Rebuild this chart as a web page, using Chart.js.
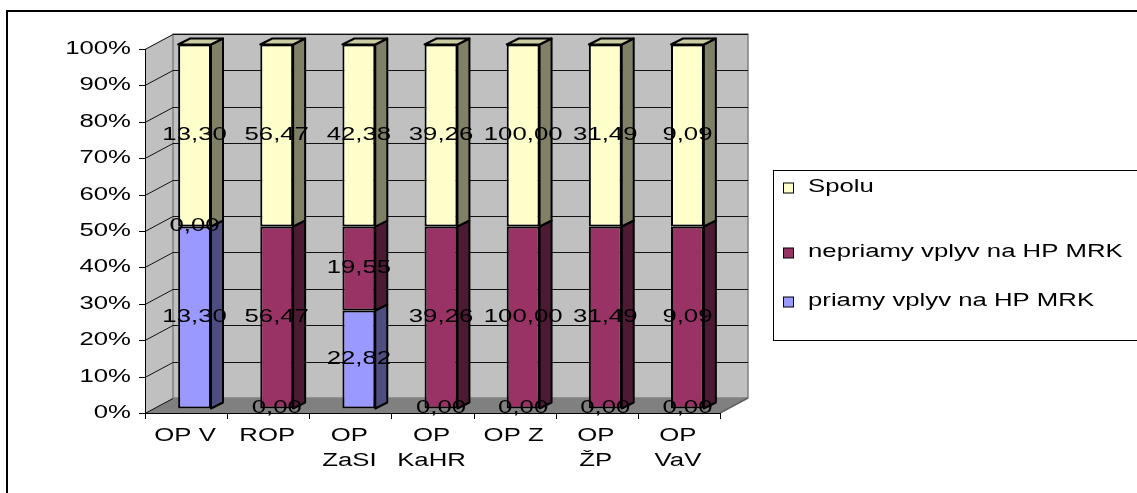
<!DOCTYPE html>
<html>
<head>
<meta charset="utf-8">
<script src="https://cdn.jsdelivr.net/npm/chart.js@4/dist/chart.umd.min.js"></script>
<style>
    html, body { margin: 0; padding: 0; background: #fff; }
    #wrap { width: 1137px; height: 493px; }
</style>
</head>
<body>
<div id="wrap"><canvas id="chart" width="1137" height="493"></canvas></div>
<script>
// Dáta grafu
const categories = ['OP V', 'ROP', ['OP', 'ZaSI'], ['OP', 'KaHR'], 'OP Z', ['OP', 'ŽP'], ['OP', 'VaV']];
const priamy = [13.30, 0.00, 22.82, 0.00, 0.00, 0.00, 0.00];
const nepriamy = [0.00, 56.47, 19.55, 39.26, 100.00, 31.49, 9.09];
const spolu = [13.30, 56.47, 42.38, 39.26, 100.00, 31.49, 9.09];
const seriesNames = ['priamy vplyv na HP MRK', 'nepriamy vplyv na HP MRK', 'Spolu'];
const seriesColors = ['#9999FF', '#993366', '#FFFFCC'];
const rawSeries = [priamy, nepriamy, spolu];
const yMax = 100;
const yStep = 10;

// 3D vzhľad (štýl, nie dáta)
const WALL_DX = 28, WALL_DY = 15;
const SHIFT_X = 8.5, SHIFT_Y = -4.5;
const BAR_DX = 12, BAR_DY = 6;
const FONT = '18px "Liberation Sans", Arial, sans-serif';
const STRETCH = 1.43;

// 100 % skladanie
const totals = categories.map((c, i) => rawSeries.reduce((s, arr) => s + arr[i], 0));
const percent = rawSeries.map(arr => arr.map((v, i) => totals[i] ? v / totals[i] * 100 : 0));

function shade(hex, f) {
    const n = parseInt(hex.slice(1), 16);
    const r = Math.round(((n >> 16) & 255) * f), g = Math.round(((n >> 8) & 255) * f), b = Math.round((n & 255) * f);
    return `rgb(${r},${g},${b})`;
}

function poly(ctx, pts, fill, stroke, lw) {
    ctx.beginPath();
    ctx.moveTo(pts[0][0], pts[0][1]);
    for (let i = 1; i < pts.length; i++) ctx.lineTo(pts[i][0], pts[i][1]);
    ctx.closePath();
    if (fill) { ctx.fillStyle = fill; ctx.fill(); }
    if (stroke) { ctx.strokeStyle = stroke; ctx.lineWidth = lw || 1; ctx.lineJoin = 'round'; ctx.stroke(); }
}

function line(ctx, x1, y1, x2, y2, color, lw) {
    ctx.beginPath();
    ctx.moveTo(x1, y1);
    ctx.lineTo(x2, y2);
    ctx.strokeStyle = color;
    ctx.lineWidth = lw || 1;
    ctx.stroke();
}

// Text roztiahnutý do šírky ako v Exceli
function text(ctx, str, x, y, align) {
    ctx.save();
    ctx.translate(x, y);
    ctx.scale(STRETCH, 1);
    ctx.font = FONT;
    ctx.fillStyle = '#000';
    ctx.textAlign = align;
    ctx.textBaseline = 'middle';
    ctx.fillText(str, 0, 0);
    ctx.restore();
}

const fmt = v => v.toFixed(2).replace('.', ',');

const framePlugin = {
    id: 'frame',
    beforeDraw(chart) {
        const ctx = chart.ctx;
        ctx.save();
        ctx.fillStyle = '#fff';
        ctx.fillRect(0, 0, chart.width, chart.height);
        line(ctx, 7, 10, 7, chart.height + 2, '#000', 2);
        line(ctx, 6, 11, chart.width + 2, 11, '#000', 2);
        ctx.restore();
    }
};

const wallsPlugin = {
    id: 'walls',
    beforeDatasetsDraw(chart) {
        const { ctx, chartArea: a, scales: { x, y } } = chart;
        ctx.save();
        const L = a.left, R = a.right, T = a.top, B = a.bottom;
        // ľavá stena, zadná stena, podlaha
        poly(ctx, [[L, T], [L + WALL_DX, T - WALL_DY], [L + WALL_DX, B - WALL_DY], [L, B]], '#C0C0C0');
        poly(ctx, [[L + WALL_DX, T - WALL_DY], [R + WALL_DX, T - WALL_DY], [R + WALL_DX, B - WALL_DY], [L + WALL_DX, B - WALL_DY]], '#C0C0C0', '#808080', 1.5);
        poly(ctx, [[L, B], [L + WALL_DX, B - WALL_DY], [R + WALL_DX, B - WALL_DY], [R, B]], '#808080');
        line(ctx, R, B, R + WALL_DX, B - WALL_DY, '#606060', 1.5);

        // mriežka
        y.ticks.forEach(t => {
            const py = Math.round(y.getPixelForValue(t.value)) + 0.5;
            line(ctx, L, py, L + WALL_DX, py - WALL_DY, '#111', 1);
            if (t.value > 0) line(ctx, L + WALL_DX, py - WALL_DY, R + WALL_DX, py - WALL_DY, '#111', 1);
        });

        // osi
        line(ctx, L + 0.5, T, L + 0.5, B, '#000', 1);
        line(ctx, L - 6, B + 0.5, R, B + 0.5, '#000', 1);
        y.ticks.forEach(t => {
            const py = Math.round(y.getPixelForValue(t.value)) + 0.5;
            line(ctx, L - 6, py, L, py, '#000', 1);
            text(ctx, t.value + '%', L - 14, py, 'right');
        });
        const half = (x.getPixelForValue(1) - x.getPixelForValue(0)) / 2;
        for (let i = 0; i <= categories.length; i++) {
            const px = Math.round(x.getPixelForValue(0) - half + i * half * 2) + 0.5;
            line(ctx, px, B, px, B + 6, '#000', 1);
        }
        categories.forEach((c, i) => {
            const px = x.getPixelForValue(i);
            const lines = Array.isArray(c) ? c : [c];
            lines.forEach((s, k) => text(ctx, s, px - 1, B + 23 + k * 25, 'center'));
        });
        ctx.restore();

        // posun stĺpcov do hĺbky
        ctx.save();
        ctx.translate(SHIFT_X, SHIFT_Y);
    },
    afterDatasetsDraw(chart) {
        const ctx = chart.ctx;
        const n = chart.data.datasets.length;
        // bočné a horné steny
        chart.data.datasets.forEach((ds, di) => {
            chart.getDatasetMeta(di).data.forEach((el, i) => {
                const p = el.getProps(['x', 'y', 'base', 'width'], true);
                if (Math.abs(p.base - p.y) < 0.5) return;
                const left = p.x - p.width / 2, right = p.x + p.width / 2;
                poly(ctx, [[right, p.y], [right + BAR_DX, p.y - BAR_DY], [right + BAR_DX, p.base - BAR_DY], [right, p.base]],
                    shade(seriesColors[di], 0.5), '#000', 2);
                let topmost = true;
                for (let k = di + 1; k < n; k++) if (percent[k][i] > 0) topmost = false;
                if (topmost) {
                    poly(ctx, [[left, p.y], [left + BAR_DX, p.y - BAR_DY], [right + BAR_DX, p.y - BAR_DY], [right, p.y]],
                        shade(seriesColors[di], 0.8), '#000', 2);
                }
            });
        });
        // popisy hodnôt
        chart.data.datasets.forEach((ds, di) => {
            chart.getDatasetMeta(di).data.forEach((el, i) => {
                const p = el.getProps(['x', 'y', 'base'], true);
                text(ctx, fmt(rawSeries[di][i]), p.x, (p.y + p.base) / 2, 'center');
            });
        });
        ctx.restore();
    }
};

const legendPlugin = {
    id: 'boxLegend',
    afterDraw(chart) {
        const ctx = chart.ctx;
        ctx.save();
        ctx.strokeStyle = '#000';
        ctx.lineWidth = 1;
        ctx.strokeRect(773.5, 170.5, 420, 170);
        const rows = [188, 253, 302];
        [2, 1, 0].forEach((si, r) => {
            ctx.fillStyle = seriesColors[si];
            ctx.fillRect(783.5, rows[r] - 5, 10, 10);
            ctx.strokeStyle = '#000';
            ctx.strokeRect(783.5, rows[r] - 5, 10, 10);
            text(ctx, seriesNames[si], 808, rows[r] - 1, 'left');
        });
        ctx.restore();
    }
};

new Chart(document.getElementById('chart'), {
    type: 'bar',
    data: {
        labels: categories,
        datasets: seriesNames.map((name, i) => ({
            label: name,
            data: percent[i],
            backgroundColor: seriesColors[i],
            borderColor: '#000',
            borderWidth: ctx => (ctx.raw > 0 ? 2 : 0),
            borderSkipped: false,
            categoryPercentage: 1,
            barPercentage: 0.4
        }))
    },
    options: {
        responsive: false,
        animation: false,
        devicePixelRatio: 1,
        layout: { padding: { left: 145, right: 417, top: 49, bottom: 80 } },
        plugins: {
            legend: { display: false },
            tooltip: { enabled: false }
        },
        scales: {
            x: { stacked: true, display: false },
            y: { stacked: true, display: false, min: 0, max: yMax, ticks: { stepSize: yStep } }
        }
    },
    plugins: [framePlugin, wallsPlugin, legendPlugin]
});
</script>
</body>
</html>
